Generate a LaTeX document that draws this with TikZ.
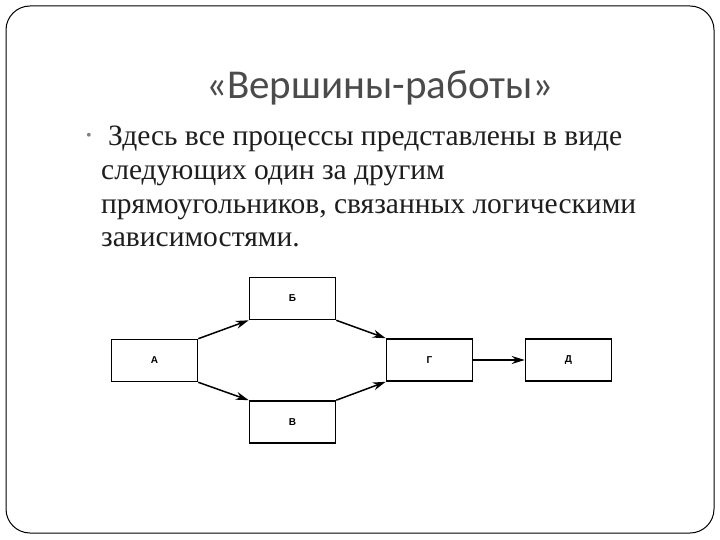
\documentclass[tikz,border=0pt]{standalone}
\usepackage{fontspec}
\setmainfont{Liberation Serif}
\newfontfamily\titlefont{Carlito}
\newfontfamily\boxfont{Liberation Sans}
\usetikzlibrary{arrows.meta}
\definecolor{titlegray}{RGB}{75,75,75}
\definecolor{textgray}{RGB}{30,30,30}
\tikzset{
  pbox/.style={draw=black, line width=1.6pt, minimum width=86pt, minimum height=42pt, inner sep=0pt, font=\boxfont\bfseries\fontsize{10}{11}\selectfont},
  conn/.style={line width=1.5pt, -{Stealth[length=13pt,width=8pt]}},
  bodyline/.style={anchor=base west, inner sep=0pt, text=textgray, font=\fontsize{29.5}{32}\selectfont}
}
\begin{document}
\begin{tikzpicture}[x=1pt,y=-1pt]
\useasboundingbox (0,0) rectangle (720,540);
\draw[line width=1pt, rounded corners=24pt, draw=black] (6,6) rectangle (714,533);
\node[text=titlegray, font=\titlefont\fontsize{41}{46}\selectfont] (title) at (380,88) {«Вершины-работы»};
\node[text=gray, font=\fontsize{16}{16}\selectfont] (bul) at (89,137) {\textbullet};
\node[bodyline] (l1) at (108,146) {Здесь все процессы представлены в виде};
\node[bodyline] (l2) at (101,180) {следующих один за другим};
\node[bodyline] (l3) at (101,213.5) {прямоугольников, связанных логическими};
\node[bodyline] (l4) at (101,247) {зависимостями.};
\node[pbox] (B) at (292.5,298.5) {Б};
\node[pbox] (A) at (154.5,360.5) {А};
\node[pbox] (V) at (292.5,422) {В};
\node[pbox] (G) at (429.5,360) {Г};
\node[pbox] (D) at (568.5,360) {Д};
\draw[conn] (A.north east) -- (B.south west);
\draw[conn] (B.south east) -- (G.north west);
\draw[conn] (A.south east) -- (V.north west);
\draw[conn] (V.north east) -- (G.south west);
\draw[conn] (G.east) -- (D.west);
\end{tikzpicture}
\end{document}
